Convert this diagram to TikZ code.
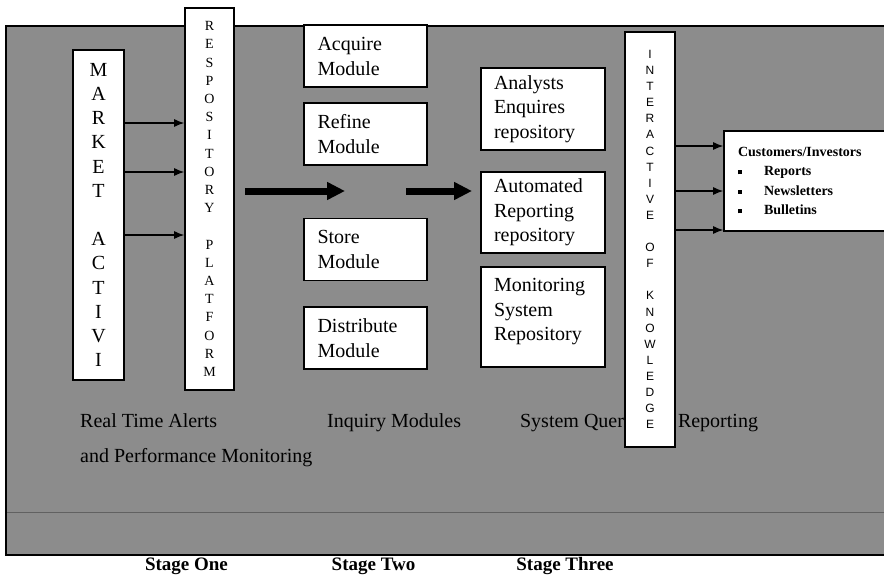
\documentclass[tikz,border=0pt]{standalone}
\usepackage{fontspec}
\setmainfont{Liberation Serif}
\setsansfont{Liberation Sans}
\usetikzlibrary{arrows.meta}
\usetikzlibrary{positioning}

\newcommand{\custbullet}{\rule[1.5pt]{4pt}{4pt}\hspace{22pt}}

\begin{document}
\begin{tikzpicture}[x=1pt, y=-1pt,
	box/.style={draw, line width=1.6pt, fill=white, inner sep=0pt},
	modbox/.style={box, minimum width=123pt, minimum height=62pt, text width=96pt, align=left, font=\fontsize{20}{25}\selectfont},
	repbox/.style={box, minimum width=124pt, text width=98pt, align=left, font=\fontsize{20}{24.5}\selectfont},
	vbox/.style={box, align=center},
	bgtext/.style={inner sep=0pt, font=\fontsize{20}{24}\selectfont},
	stagetext/.style={inner sep=0pt, font=\fontsize{19}{22}\selectfont\bfseries},
	thinarrow/.style={line width=1.2pt, -{Latex[length=10pt, width=8pt]}},
	bigarrow/.style={line width=7pt, -{Triangle[length=18pt, width=17pt]}}]
	\useasboundingbox (0,0) rectangle (884,574);
	
	% Background panel
	\filldraw[fill=black!45, line width=1.8pt] (6,26) rectangle (895,555);
	\draw[black!62, line width=0.6pt] (7,512) -- (884,512);
	
	% Text on the panel
	\node[bgtext, anchor=base west] (alerts) at (80,427) {Real Time Alerts};
	\node[bgtext, anchor=base west] (perf) at (80,462) {and Performance Monitoring};
	\node[bgtext, anchor=base west] (inquiry) at (327,427) {Inquiry Modules};
	
	% Nodes
	\node[vbox, minimum width=51pt, minimum height=330pt, font=\fontsize{20}{24.2}\selectfont] (market) at (98.5,215)
		{M\\A\\R\\K\\E\\T\\~\\A\\C\\T\\I\\V\\I};
	\node[vbox, minimum width=49pt, minimum height=382pt, font=\fontsize{14}{18.2}\selectfont] (repo) at (209.5,199)
		{R\\E\\S\\P\\O\\S\\I\\T\\O\\R\\Y\\~\\P\\L\\A\\T\\F\\O\\R\\M};
	
	\node[modbox] (acquire) at (365.5,56) {Acquire\\Module};
	\node[modbox] (refine) at (365.5,134) {Refine\\Module};
	\node[modbox] (store) at (365.5,249.5) {Store\\Module};
	\node[modbox] (distribute) at (365.5,338) {Distribute\\Module};
	
	\node[repbox, minimum height=82pt] (analysts) at (543,109) {Analysts\\Enquires\\repository};
	\node[repbox, minimum height=81pt] (automated) at (543,212.5) {Automated\\Reporting\\repository};
	\node[repbox, minimum height=100pt] (monitoring) at (543,317) {Monitoring\\System\\Repository\\[-10pt]~};
	
	\node[vbox, minimum width=50pt, minimum height=415pt, font=\fontsize{12}{16.1}\selectfont\sffamily] (interactive) at (650,239.5)
		{I\\N\\T\\E\\R\\A\\C\\T\\I\\V\\E\\~\\O\\F\\~\\K\\N\\O\\W\\L\\E\\D\\G\\E};
	
	\node[box, minimum width=170pt, minimum height=100pt, text width=142pt, align=left, font=\fontsize{14}{19.5}\selectfont\bfseries] (customers) at (809,181)
		{Customers/Investors\\\custbullet Reports\\\custbullet Newsletters\\\custbullet Bulletins};
	
	\node[bgtext, anchor=base east] (queries) at (interactive.west |- 0,427) {System Quer};
	\node[bgtext, anchor=base west, xshift=2pt] (reporting) at (interactive.east |- 0,427) {Reporting};
	
	% Arrows
	\foreach \y in {123,172,235}
		\draw[thinarrow] (market.east |- 0,\y) -- (repo.west |- 0,\y);
	\foreach \y in {146,191,230}
		\draw[thinarrow] (interactive.east |- 0,\y) -- (customers.west |- 0,\y);
	
	\coordinate (s1) at (245,191);
	\coordinate (e1) at (345,191);
	\coordinate (s2) at (406,191);
	\coordinate (e2) at (472,191);
	\draw[bigarrow] (s1) -- (e1);
	\draw[bigarrow] (s2) -- (e2);
	
	% Stages
	\node[stagetext] (one) at (186.5,566) {Stage One};
	\node[stagetext] (two) at (373.5,566) {Stage Two};
	\node[stagetext] (three) at (565,566) {Stage Three};
\end{tikzpicture}
\end{document}
